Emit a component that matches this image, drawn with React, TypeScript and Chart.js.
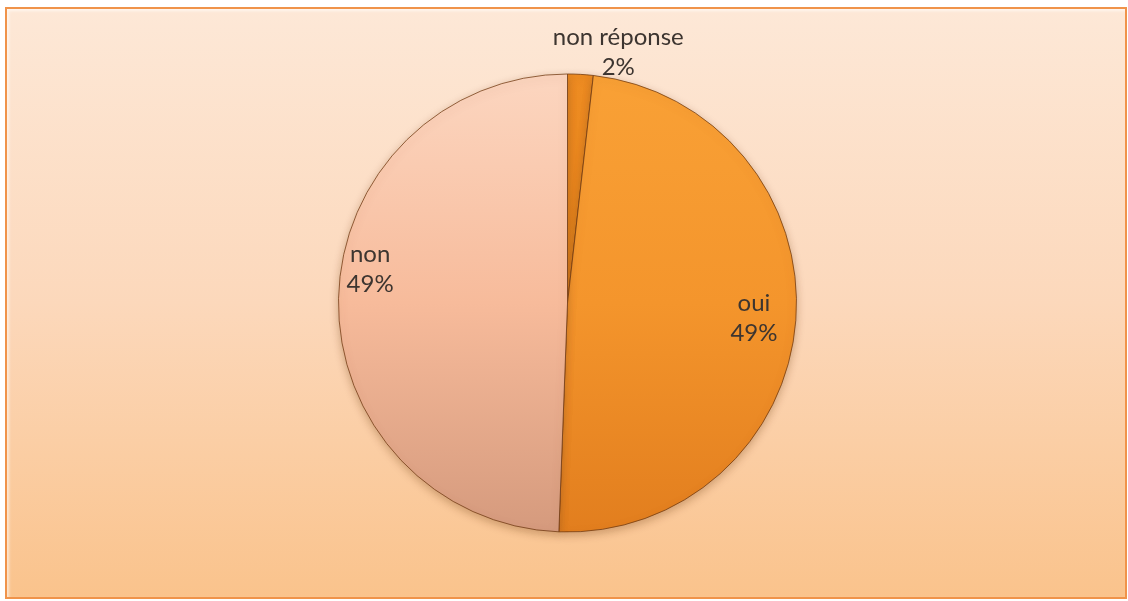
import React, { useEffect, useRef } from "react";
import { Chart, registerables } from "chart.js";

Chart.register(...registerables);

// ---- data ----
const categories: string[] = ["non réponse", "oui", "non"];
const values: number[] = [1.8, 48.8, 49.4];

// ---- styles ----
const topColors: string[] = ["#ee8c22", "#f9a136", "#fcd6c0"];
const midColors: string[] = ["#e6831a", "#f4952c", "#f7bb9b"];
const bottomColors: string[] = ["#d87512", "#e27e1e", "#d59a7d"];
// label placement: radius factor relative to outer radius, angular shift (deg)
const labelRadius: number[] = [1.118, 0.817, 0.874];
const labelShift: number[] = [8.2, 0.35, 8.5];

const FONT = "Lato, 'Open Sans', sans-serif";

const shadowPlugin = {
  id: "pieShadow",
  beforeDatasetsDraw(chart: any) {
    const ctx = chart.ctx;
    ctx.save();
    ctx.shadowColor = "rgba(120,70,30,0.35)";
    ctx.shadowBlur = 8;
    ctx.shadowOffsetX = 0;
    ctx.shadowOffsetY = 3;
  },
  afterDatasetsDraw(chart: any) {
    chart.ctx.restore();
  },
};

const labelPlugin = {
  id: "sliceLabels",
  afterDraw(chart: any) {
    const ctx = chart.ctx;
    const meta = chart.getDatasetMeta(0);
    const total = values.reduce((a, b) => a + b, 0);
    ctx.save();
    ctx.font = `24px ${FONT}`;
    ctx.fillStyle = "#3d3530";
    ctx.textAlign = "center";
    ctx.textBaseline = "middle";
    meta.data.forEach((arc: any, i: number) => {
      const { x, y, startAngle, endAngle, outerRadius } = arc.getProps(
        ["x", "y", "startAngle", "endAngle", "outerRadius"],
        true
      );
      const mid = (startAngle + endAngle) / 2 + (labelShift[i] * Math.PI) / 180;
      const r = outerRadius * labelRadius[i];
      const cx = x + Math.cos(mid) * r;
      const cy = y + Math.sin(mid) * r;
      const pct = Math.round((values[i] / total) * 100) + "%";
      ctx.fillText(categories[i], cx, cy - 15);
      ctx.fillText(pct, cx, cy + 15);
    });
    ctx.restore();
  },
};

export default function App() {
  const canvasRef = useRef<HTMLCanvasElement | null>(null);

  useEffect(() => {
    if (!canvasRef.current) return;
    const makeGrad = (ctx: any, area: any, i: number) => {
      const g = ctx.chart.ctx.createLinearGradient(0, area.top, 0, area.bottom);
      g.addColorStop(0, topColors[i]);
      g.addColorStop(0.5, midColors[i]);
      g.addColorStop(1, bottomColors[i]);
      return g;
    };
    const chart = new Chart(canvasRef.current, {
      type: "pie",
      data: {
        labels: categories,
        datasets: [
          {
            data: values,
            backgroundColor: (ctx: any) => {
              const area = ctx.chart.chartArea;
              if (!area) return topColors[ctx.dataIndex];
              return makeGrad(ctx, area, ctx.dataIndex);
            },
            borderColor: "rgba(110,55,15,0.75)",
            borderWidth: 1,
          },
        ],
      },
      options: {
        responsive: false,
        animation: false,
        devicePixelRatio: 1,
        layout: { padding: { top: 73.5, bottom: 68.5, left: 7, right: 0 } },
        plugins: {
          legend: { display: false },
          tooltip: { enabled: false },
        },
      },
      plugins: [shadowPlugin, labelPlugin],
    });
    return () => chart.destroy();
  }, []);

  return (
    <div style={{ position: "absolute", left: 0, top: 0, width: 1128, height: 601 }}>
      <div
        style={{
          position: "absolute",
          left: 5,
          top: 7,
          width: 1122,
          height: 592,
          boxSizing: "border-box",
          border: "2px solid #f0934a",
          background: "linear-gradient(to bottom, #fde8d7 0%, #fcd8bb 50%, #fac38c 100%)",
          boxShadow: "inset 2px 2px 3px rgba(255,255,255,0.6)",
        }}
      />
      <canvas
        ref={canvasRef}
        width={1128}
        height={601}
        style={{ position: "absolute", left: 0, top: 0, width: 1128, height: 601 }}
      />
    </div>
  );
}
